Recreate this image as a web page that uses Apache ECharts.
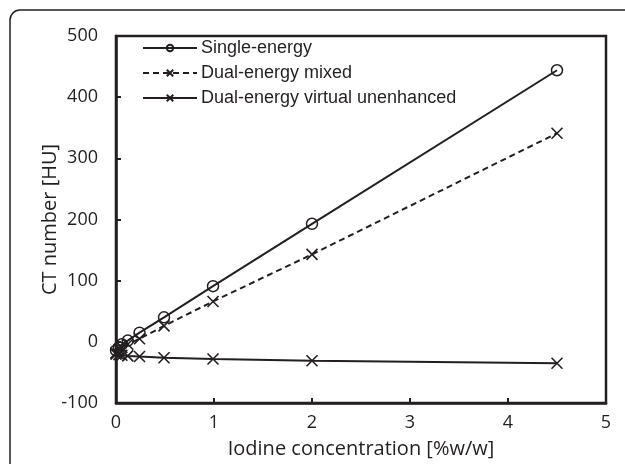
<!DOCTYPE html>
<html>
<head>
<meta charset="utf-8">
<script src="https://cdn.jsdelivr.net/npm/echarts@6/dist/echarts.min.js"></script>
<style>
  html, body { margin: 0; padding: 0; background: #fff; }
  #chart { width: 625px; height: 464px; }
</style>
</head>
<body>
<div id="chart"></div>
<script>
// iodine concentration [%w/w]
var concentration = [0, 0.03, 0.06, 0.12, 0.24, 0.49, 0.99, 2.0, 4.5];
// CT numbers [HU]
var singleEnergy = [-14, -9, -4, 2, 15, 40, 91, 193, 444];
var dualMixed = [-18, -13, -9, -4, 5, 26, 66, 143, 341];
var dualVnc = [-20, -21, -22, -23, -24, -26, -28, -31, -35];

var ink = '#231f20';
var crossPath = 'path://M0,0L10,10M10,0L0,10';

function pairs(ys) {
  return concentration.map(function (x, i) { return [x, ys[i]]; });
}

var chart = echarts.init(document.getElementById('chart'));
chart.setOption({
  animation: false,
  backgroundColor: '#fff',
  graphic: [{
    type: 'rect',
    shape: { x: 10, y: 10, width: 800, height: 600, r: 10 },
    style: { fill: 'none', stroke: ink, lineWidth: 1.5 },
    silent: true
  }],
  grid: {
    left: 116, right: 19, top: 36, bottom: 61,
    show: true, borderColor: ink, borderWidth: 2.5,
    containLabel: false
  },
  legend: {
    orient: 'vertical',
    left: 142, top: 39, padding: 0,
    itemWidth: 54, itemHeight: 8, itemGap: 7,
    textStyle: { fontFamily: 'Liberation Sans', fontSize: 18, color: ink, padding: [0, 0, 0, -1] },
    data: ['Single-energy', 'Dual-energy mixed', 'Dual-energy virtual unenhanced']
  },
  xAxis: {
    type: 'value', min: 0, max: 5, interval: 1,
    name: 'Iodine concentration [%w/w]', nameLocation: 'middle', nameGap: 36,
    nameMoveOverlap: false,
    nameTextStyle: { fontFamily: 'Open Sans', fontSize: 20, color: ink },
    axisLine: { onZero: false, lineStyle: { color: ink, width: 2.5 } },
    axisTick: { inside: true, length: 5, lineStyle: { color: ink, width: 2 } },
    axisLabel: { fontFamily: 'Open Sans', fontSize: 18, color: ink, margin: 11 },
    splitLine: { show: false }
  },
  yAxis: {
    type: 'value', min: -100, max: 500, interval: 100,
    name: 'CT number [HU]', nameLocation: 'middle', nameGap: 56,
    nameMoveOverlap: false,
    nameTextStyle: { fontFamily: 'Open Sans', fontSize: 20, color: ink },
    axisLine: { onZero: false, lineStyle: { color: ink, width: 2.5 } },
    axisTick: { inside: true, length: 5, lineStyle: { color: ink, width: 2 } },
    axisLabel: { fontFamily: 'Open Sans', fontSize: 18, color: ink, margin: 18 },
    splitLine: { show: false }
  },
  series: [{
    name: 'Single-energy', type: 'line', data: pairs(singleEnergy),
    symbol: 'circle', symbolSize: 11,
    lineStyle: { color: ink, width: 2 },
    itemStyle: { color: 'rgba(255,255,255,0)', borderColor: ink, borderWidth: 1.5 }
  }, {
    name: 'Dual-energy mixed', type: 'line', data: pairs(dualMixed),
    symbol: crossPath, symbolSize: 11,
    lineStyle: { color: ink, width: 2, type: [6, 4] },
    itemStyle: { color: 'rgba(255,255,255,0)', borderColor: ink, borderWidth: 1.6 }
  }, {
    name: 'Dual-energy virtual unenhanced', type: 'line', data: pairs(dualVnc),
    symbol: crossPath, symbolSize: 11,
    lineStyle: { color: ink, width: 2 },
    itemStyle: { color: 'rgba(255,255,255,0)', borderColor: ink, borderWidth: 1.6 }
  }]
});
</script>
</body>
</html>
